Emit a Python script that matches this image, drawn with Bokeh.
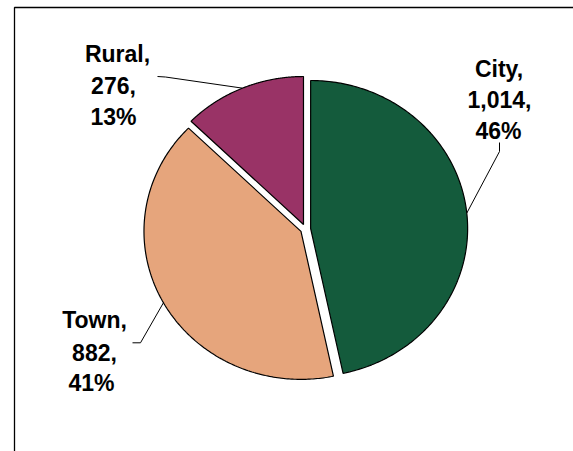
import numpy as np
from bokeh.plotting import figure
from bokeh.models import Range1d
from bokeh.embed import file_html
from bokeh.resources import INLINE
from bokeh.core.properties import value

# ---- data ----
categories = ["City", "Town", "Rural"]
counts = [1014, 882, 276]
pct_labels = ["46%", "41%", "13%"]
colors = ["#145B3C", "#E6A57C", "#993366"]

# ---- layout (pixels) ----
W, H = 573, 451
CX, CY = 305.0, 228.5      # pie centre
RX, RY = 157.0, 148.0      # horizontal / vertical radius
EXPLODE = 5.0 / 152.0      # explode distance in unit-circle terms

# label line anchors (centre x, baselines) per category
label_pos = {
    "City": [(498.5, 68), (499, 99), (498, 130)],
    "Town": [(94, 319), (94, 351.5), (91, 382)],
    "Rural": [(117, 53), (113, 85), (113, 116.5)],
}
# leader start points (label end -> elbow)
leader_pts = {
    "City": [(499, 142), (499, 151)],
    "Town": [(132, 342.3), (140, 342.3)],
    "Rural": [(157, 76), (165, 76.5)],
}


def dx(px):
    return (px - CX) / RX


def dy(py):
    return (CY - py) / RY


p = figure(width=W, height=H, x_range=Range1d(dx(0), dx(W)), y_range=Range1d(dy(H), dy(0)),
           output_backend="svg", toolbar_location=None, min_border=0,
           x_axis_location=None, y_axis_location=None)
p.grid.visible = False
p.outline_line_color = None
p.background_fill_color = "white"
p.border_fill_color = "white"

# chart frame (top and left edges visible)
p.line([dx(14), dx(14), dx(W + 10)], [dy(H + 10), dy(7), dy(7)], line_color="black", line_width=1.3)

total = float(sum(counts))
fracs = [c / total for c in counts]
starts = np.cumsum([0] + fracs[:-1]) * 2 * np.pi
ends = np.cumsum(fracs) * 2 * np.pi

xs, ys, leader_x, leader_y = [], [], [], []
for cat, a0, a1 in zip(categories, starts, ends):
    mid = (a0 + a1) / 2
    ox, oy = EXPLODE * np.sin(mid), EXPLODE * np.cos(mid)
    t = np.linspace(a0, a1, 200)
    xs.append(list(np.concatenate([[ox], ox + np.sin(t), [ox]])))
    ys.append(list(np.concatenate([[oy], oy + np.cos(t), [oy]])))
    # leader to arc midpoint
    (sx, sy), (ex, ey) = leader_pts[cat]
    leader_x.append([dx(sx), dx(ex), ox + np.sin(mid)])
    leader_y.append([dy(sy), dy(ey), oy + np.cos(mid)])

p.patches(xs, ys, fill_color=colors, line_color="black", line_width=1.2)
p.multi_line(leader_x, leader_y, line_color="black", line_width=1)

for cat, cnt, pct in zip(categories, counts, pct_labels):
    lines = [cat + ",", f"{cnt:,},", pct]
    pos = label_pos[cat]
    p.text([dx(x) for x, _ in pos], [dy(y) for _, y in pos], text=lines,
           text_font=value("Liberation Sans"), text_font_style="bold",
           text_font_size="23px", text_align="center", text_baseline="alphabetic",
           text_color="black")

open("out.html", "w").write(file_html(p, INLINE))
